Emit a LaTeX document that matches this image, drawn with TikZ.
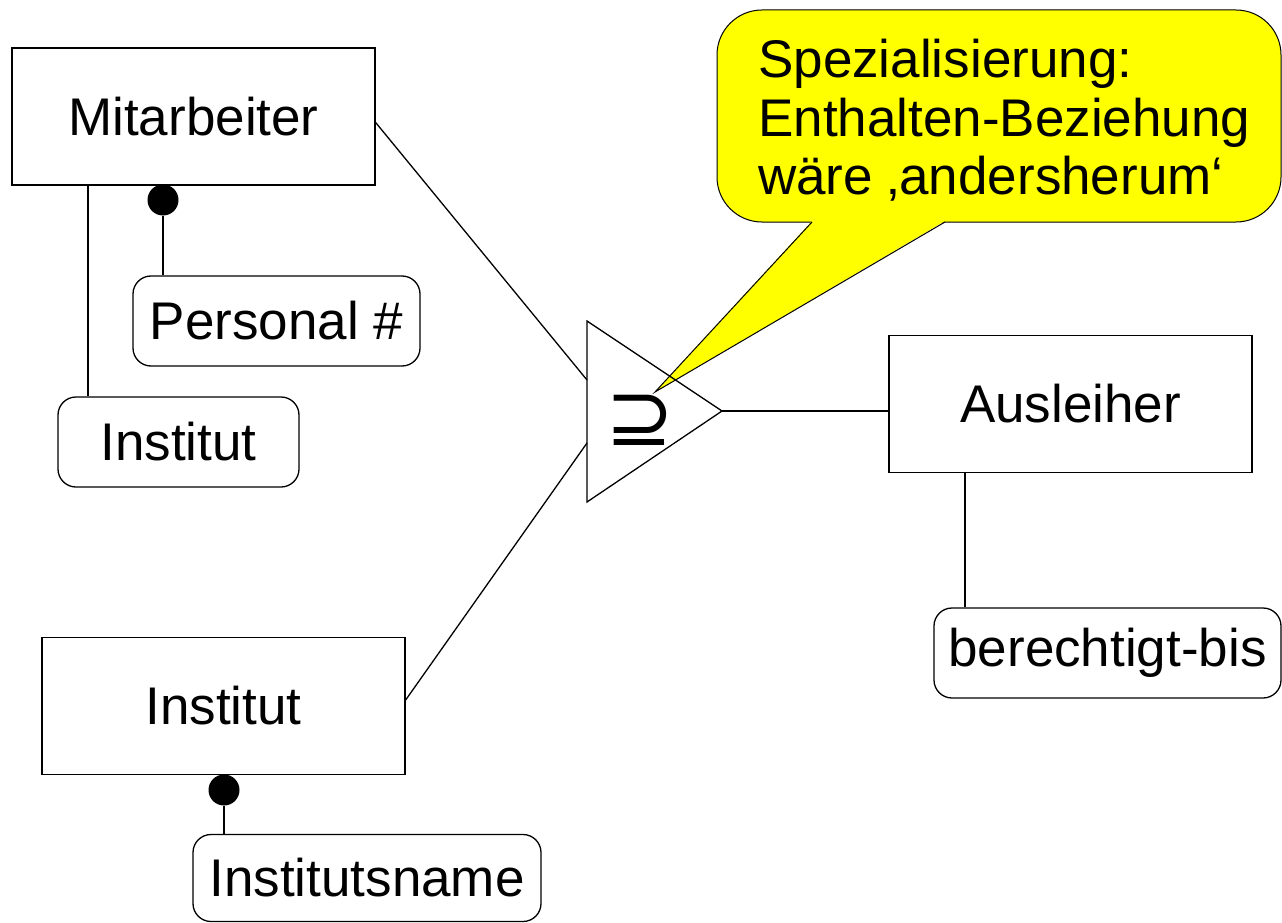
\documentclass[tikz,border=0pt]{standalone}
\usepackage{fontspec}
\setmainfont{Liberation Sans}
\newfontfamily\symfont{DejaVu Sans}
\usepackage{tikz}
\usetikzlibrary{shapes}
\usetikzlibrary{calc}
\definecolor{notebg}{RGB}{255,255,0}

\begin{document}
\begin{tikzpicture}[x=1pt,y=-1pt]
      \tikzstyle{edge}  = [draw=black, line width=1.3pt]
      \tikzstyle{entity}=[
        draw=black,
        line width=1.3pt,
        rectangle,
        anchor=center,
        minimum width=363pt,
        minimum height=137pt,
        font=\fontsize{53}{60}\selectfont,
      ]
      \tikzstyle{attr}=[
        draw=black,
        line width=1.3pt,
        rectangle,
        rounded corners=18pt,
        anchor=center,
        minimum height=90pt,
        font=\fontsize{53}{60}\selectfont,
      ]
      \tikzstyle{key}=[circle, fill=black, minimum size=31pt, inner sep=0pt]
      \useasboundingbox (0,0) rectangle (1282,923);

      % callout
      \draw[fill=notebg, line width=1pt, rounded corners=45pt]
        (717,10) rectangle (1281,222);
      \fill[notebg] (812,221) -- (655,392) -- (945,221) -- cycle;
      \draw[line width=1pt] (812,222) -- (655,392) -- (945,222);
      \node[anchor=north west, inner sep=0pt, align=left,
        font=\fontsize{53}{58.5}\selectfont] (note) at (758,39)
        {Spezialisierung:\\Enthalten-Beziehung\\wäre ‚andersherum‘};

      \node[entity] (mit) at (193.5,116.5) {Mitarbeiter};
      \node[attr, minimum width=287pt] (pnr) at (276.5,321) {Personal \#};
      \node[attr, minimum width=241pt] (inst) at (178.5,442) {Institut};
      \node[entity] (ins) at (223.5,706) {Institut};
      \node[attr, minimum width=348pt, minimum height=87pt] (iname) at (367,878) {Institutsname};
      \node[entity] (aus) at (1070.5,404) {Ausleiher};
      \node[attr, minimum width=347pt] (ber) at (1107.5,653) {berechtigt-bis};
      \node[key] (k1) at (163,200) {};
      \node[key] (k2) at (224,790) {};

      % specialisation triangle
      \coordinate (top) at (587,321);
      \coordinate (bot) at (587,502);
      \coordinate (tip) at (722,411);
      \coordinate (in1) at (587,380);
      \coordinate (in2) at (587,443);
      \draw[edge, line join=miter] (top) -- (tip) -- (bot) -- cycle;
      \node[font=\symfont\fontsize{82}{90}\selectfont, inner sep=0pt] (sub) at (640,420) {⊇};

      \draw[edge] ([yshift=-6pt]mit.east) -- (in1);
      \draw[edge] ([yshift=6pt]ins.east) -- (in2);
      \draw[edge] (tip) -- (tip -| aus.west);
      \draw[edge] ([xshift=-105.5pt]mit.south) -- ([xshift=-90.5pt]inst.north);
      \draw[edge] (k1) -- (k1 |- pnr.north);
      \draw[edge] (k2) -- (k2 |- iname.north);
      \draw[edge] ([xshift=-105.5pt]aus.south) -- ([xshift=-142.5pt]ber.north);
\end{tikzpicture}
\end{document}
